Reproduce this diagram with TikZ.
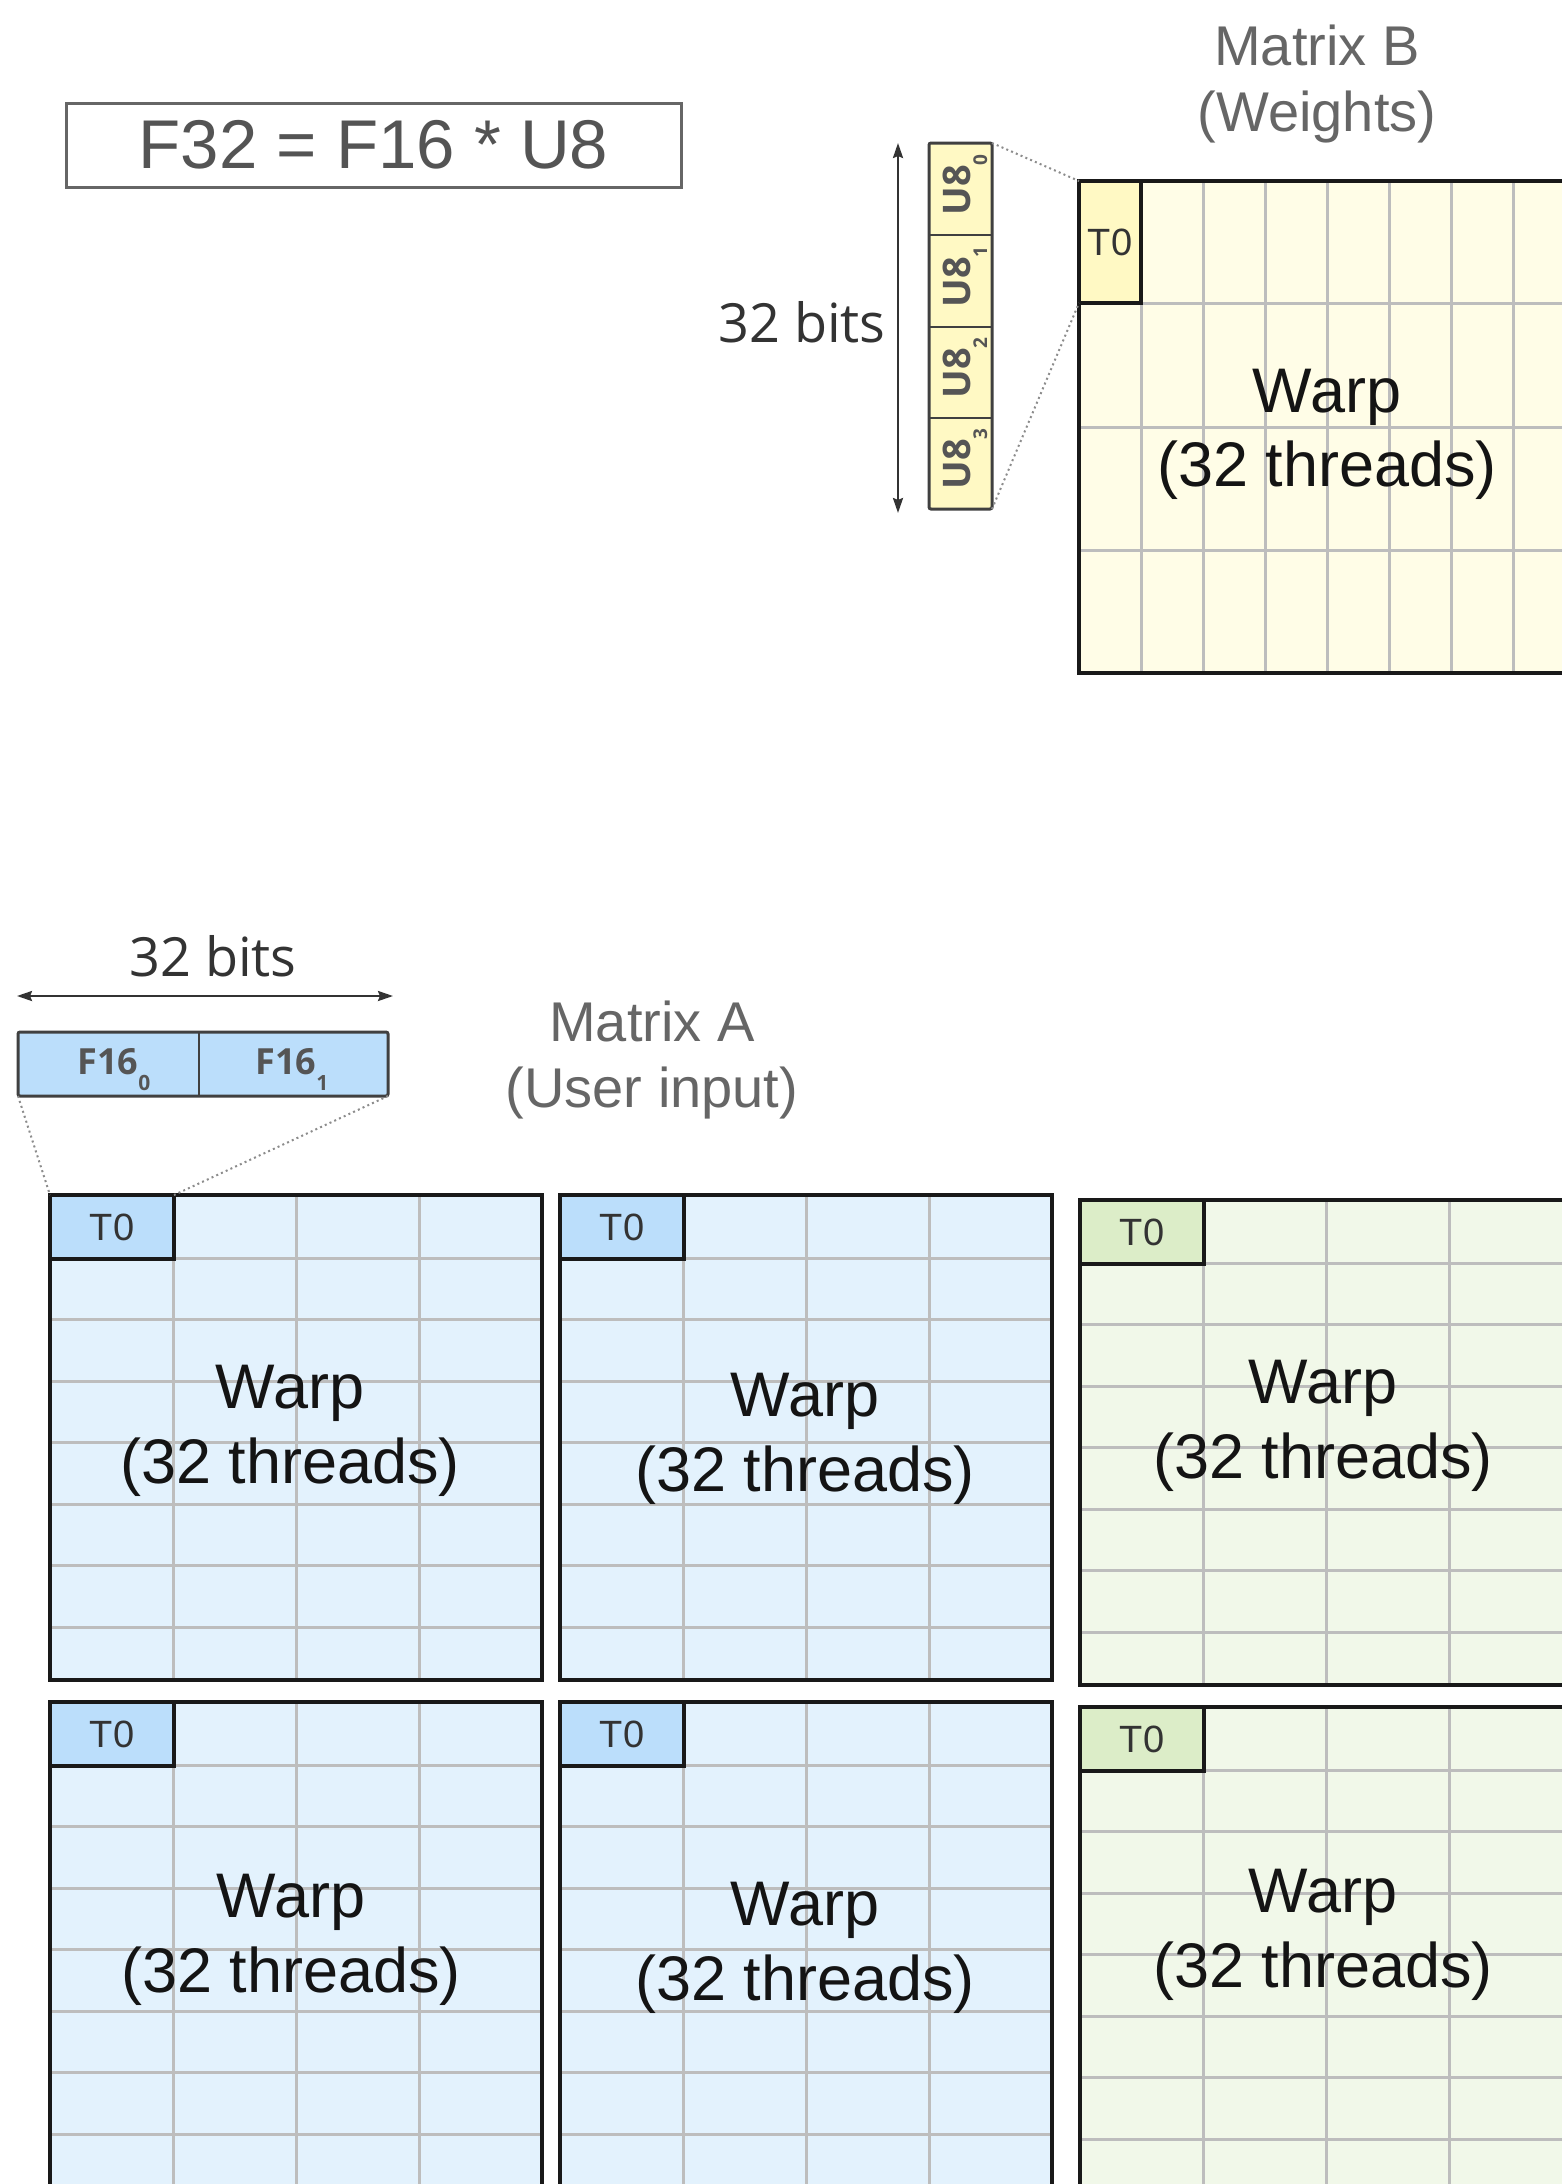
\documentclass[tikz,border=0pt]{standalone}
\usepackage{fontspec}
\setmainfont{Liberation Sans}
\newfontfamily\osans{Open Sans}
\usetikzlibrary{arrows.meta}
\definecolor{bluebg}{HTML}{E3F2FD}
\definecolor{bluet}{HTML}{BBDEFB}
\definecolor{greenbg}{HTML}{F1F8E9}
\definecolor{greent}{HTML}{DCEDC8}
\definecolor{yelbg}{HTML}{FFFDE7}
\definecolor{yelt}{HTML}{FFF9C4}
\definecolor{gridc}{HTML}{BDBDBD}
\definecolor{labelc}{HTML}{666666}
\definecolor{darktxt}{HTML}{333333}
\definecolor{boldtxt}{HTML}{555555}
\newcommand\lowsub[3]{\raisebox{-#1}{\fontsize{#2}{#2}\selectfont #3}}
\newcommand\widewarp[7]{%
  \node[bgbox=#4, minimum width=246pt, minimum height=242.5pt] (#1) at (#2,#3) {};
  \foreach \i in {1,2,3}{\draw[gridline] ({#2+\i*123},#3) -- ({#2+\i*123},{#3+485});}
  \foreach \j in {0,...,6}{\draw[gridline] (#2,{#3+63+\j*61.5}) -- ({#2+492},{#3+63+\j*61.5});}
  \draw[border] (#1.north west) rectangle (#1.south east);
  \node[tcell=#5, minimum width=62pt, minimum height=32pt] (#1t) at (#2,#3) {T0};
  \node[warptxt] (#1w) at ({#2+246+#7},{#3+#6}) {Warp};
  \node[warptxt] (#1n) at ({#2+246+#7},{#3+#6+75}) {(32 threads)};
}
\begin{document}
\begin{tikzpicture}[x=0.5pt,y=-0.5pt,
  bgbox/.style={fill=#1, draw=none, inner sep=0pt, outer sep=0pt, anchor=north west},
  gridline/.style={draw=gridc, line width=1.5pt},
  border/.style={draw=black!90, line width=2pt},
  tcell/.style={fill=#1, draw=black!90, line width=2pt, inner sep=0pt, outer sep=0pt, anchor=north west, font=\fontsize{19}{19}\selectfont, text=darktxt},
  warptxt/.style={font=\fontsize{31.5}{31.5}\selectfont, anchor=base, text=black!92, inner sep=0pt},
  lbl/.style={font=\fontsize{28}{28}\selectfont, anchor=base, text=labelc, inner sep=0pt},
  bitstxt/.style={font=\osans\fontsize{27}{27}\selectfont, text=darktxt, inner sep=0pt},
  dimarrow/.style={{Stealth[length=7.5pt,width=5pt,inset=1pt]}-{Stealth[length=7.5pt,width=5pt,inset=1pt]}, line width=1.2pt, draw=darktxt},
  dotline/.style={draw=black!45, line width=1pt, dash pattern=on 1pt off 1.6pt},
  regbox/.style={draw=black!75, line width=1.5pt, rounded corners=1pt, inner sep=0pt, outer sep=0pt, anchor=north west},
  regtxt/.style={font=\osans\bfseries\fontsize{18}{18}\selectfont, text=boldtxt, inner sep=0pt}
]
\useasboundingbox (0,0) rectangle (1562,2184);
\fill[white] (0,0) rectangle (1562,2184);
\clip (0,0) rectangle (1562,2184);

% formula
\node[draw=black!60, line width=1.5pt, minimum width=307.5pt, minimum height=42pt, inner sep=0pt,
  font=\fontsize{34.5}{34.5}\selectfont, text=black!67] (formula) at (373.5,145) {F32 = F16 * U8};

% Matrix B label
\node[lbl] (mbl1) at (1317,65) {Matrix B};
\node[lbl] (mbl2) at (1317,131) {(Weights)};

% Matrix B warp (8 cols x 4 rows)
\node[bgbox=yelbg, minimum width=248pt, minimum height=246pt] (B) at (1079,181) {};
\foreach \i in {1,...,7}{\draw[gridline] ({1079+\i*62},181) -- ({1079+\i*62},673);}
\foreach \y in {303,427,550}{\draw[gridline] (1079,\y) -- (1575,\y);}
\draw[border] (B.north west) rectangle (B.south east);
\node[tcell=yelt, minimum width=31pt, minimum height=61pt] (Bt) at (1079,181) {T0};
\node[warptxt] (Bw) at (1327,412) {Warp};
\node[warptxt] (Bn) at (1327,486) {(32 threads)};

% U8 register
\node[regbox, fill=yelt, minimum width=31.5pt, minimum height=183pt] (u8) at (929,143) {};
\foreach \y in {235,327,418}{\draw[draw=black!75, line width=1pt] (929,\y) -- (992,\y);}
\foreach \k/\y in {0/185,1/277,2/368,3/459}{
  \node[regtxt, rotate=90, anchor=base, font=\osans\bfseries\fontsize{19}{19}\selectfont] (u8c\k) at (970,\y) {U8\lowsub{8.5pt}{9.5}{\k}};
}
\coordinate (vtop) at (898,143);
\coordinate (vbot) at (898,513);
\draw[dimarrow] (vtop) -- (vbot);
\node[bitstxt, anchor=base east] (bitsB) at (886,342) {32 bits};
\draw[dotline] (u8.north east) -- (B.north west);
\draw[dotline] (u8.south east) -- (Bt.south west);

% Matrix A label
\node[lbl] (mal1) at (652,1041) {Matrix A};
\node[lbl] (mal2) at (652,1107) {(User input)};

% F16 register
\coordinate (hl) at (17,996);
\coordinate (hr) at (393,996);
\draw[dimarrow] (hl) -- (hr);
\node[bitstxt, anchor=base] (bitsA) at (213,976) {32 bits};
\node[regbox, fill=bluet, minimum width=185pt, minimum height=32pt] (f16) at (18,1032) {};
\draw[draw=black!75, line width=1pt] (199,1032) -- (199,1096);
\node[regtxt, anchor=base] (f16a) at (114,1074) {F16\lowsub{8pt}{10.5}{0}};
\node[regtxt, anchor=base] (f16b) at (292,1074) {F16\lowsub{8pt}{10.5}{1}};

% warps of matrix A and C
\widewarp{A1}{50}{1195}{bluebg}{bluet}{213}{-6}
\widewarp{A2}{560}{1195}{bluebg}{bluet}{221}{-1}
\widewarp{G1}{1080}{1200}{greenbg}{greent}{203}{-3}
\widewarp{A3}{50}{1702}{bluebg}{bluet}{215}{-5}
\widewarp{A4}{560}{1702}{bluebg}{bluet}{223}{-1}
\widewarp{G2}{1080}{1707}{greenbg}{greent}{205}{-3}

\draw[dotline] (f16.south west) -- (A1.north west);
\draw[dotline] (f16.south east) -- (A1t.north east);
\end{tikzpicture}
\end{document}
